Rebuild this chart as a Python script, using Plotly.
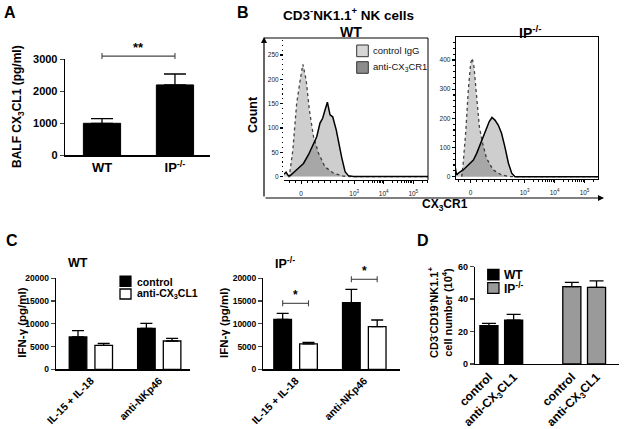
import numpy as np
import plotly.graph_objects as go

W, H = 625, 429
FONT = "Arial, 'Liberation Sans', Helvetica, sans-serif"

# ---------------- data ----------------
# Panel A
a_groups = ["WT", "IP<sup>-/-</sup>"]
a_mean = [1000, 2200]
a_sem = [145, 340]
a_sig_y = 3100
a_sig_text = "**"

# Panel B (flow histograms, x in display units of the logicle axis)
b_xtick_vals = [0, 1.8, 2.8, 3.8]
b_xtick_text = ["0", "10<sup>3</sup>", "10<sup>4</sup>", "10<sup>5</sup>"]
b_legend = ["control IgG", "anti-CX<sub>3</sub>CR1"]
wt_ctrl_x = [-0.45, -0.40, -0.28, -0.15, -0.03, 0.06, 0.17, 0.28, 0.42, 0.59, 0.81, 1.10, 1.43, 1.66, 4.3]
wt_ctrl_y = [0, 0, 55, 151, 199, 231, 199, 137, 82, 48, 20, 7, 1, 0, 0]
wt_anti_x = [-0.58, -0.51, -0.45, -0.37, -0.15, 0.08, 0.25, 0.42, 0.53, 0.64, 0.73, 0.81, 0.89,
             0.98, 1.07, 1.19, 1.27, 1.38, 1.49, 1.60, 1.77, 4.3]
wt_anti_y = [5, 9, 3, 2, 14, 27, 45, 69, 82, 110, 120, 137, 153, 127, 123, 96, 69, 38, 10, 2, 0, 0]
ip_ctrl_x = [-0.30, -0.25, -0.16, -0.08, 0.0, 0.05, 0.11, 0.20, 0.29, 0.40, 0.53, 0.75, 1.03, 1.31, 4.25]
ip_ctrl_y = [0, 46, 160, 297, 389, 406, 377, 274, 171, 114, 63, 23, 6, 0, 0]
ip_anti_x = [-0.52, -0.50, -0.47, -0.41, -0.25, -0.08, 0.09, 0.20, 0.31, 0.42, 0.53, 0.62, 0.71,
             0.81, 0.92, 1.03, 1.14, 1.26, 1.37, 1.48, 4.25]
ip_anti_y = [34, 15, 6, 12, 23, 40, 57, 80, 109, 137, 171, 189, 203, 194, 177, 149, 103, 46, 12, 0, 0]

# Panel C
c_stim = ["IL-15 + IL-18", "anti-NKp46"]
c_treat = ["control", "anti-CX<sub>3</sub>CL1"]
c_wt_ctrl = [7100, 9010]
c_wt_ctrl_err = [1380, 1100]
c_wt_anti = [5270, 6220]
c_wt_anti_err = [440, 590]
c_ip_ctrl = [10990, 14650]
c_ip_ctrl_err = [1310, 2930]
c_ip_anti = [5570, 9380]
c_ip_anti_err = [360, 1460]
c_ip_sig_y = [14500, 19780]
c_ip_sig_text = ["*", "*"]

# Panel D
d_geno = ["WT", "IP<sup>-/-</sup>"]
d_treat = ["control", "anti-CX<sub>3</sub>CL1"]
d_wt = [23.6, 27.1]
d_wt_err = [1.5, 3.5]
d_ip = [47.7, 47.3]
d_ip_err = [2.6, 3.9]

# ---------------- geometry (pixels) ----------------
GEO = {
    "A": dict(x=(65, 210), y=(59.3, 155.3), xr=(-0.507, 1.48), yr=(0, 3000)),
    "BW": dict(x=(284, 428), y=(38, 180), xr=(-0.58, 4.3), yr=(-7, 285)),
    "BI": dict(x=(455.7, 598), y=(37, 179), xr=(-0.5, 4.25), yr=(-8, 479)),
    "CW": dict(x=(56, 190), y=(278.3, 369.3), xr=(-0.51, 1.45), yr=(0, 20000)),
    "CI": dict(x=(263.3, 400), y=(278.3, 369.3), xr=(-0.47, 1.52), yr=(0, 20000)),
    "D": dict(x=(475, 619), y=(266.7, 364), xr=(-0.317, 1.42), yr=(0, 60)),
}


def fx(px):
    return px / W


def fy(py):
    return 1 - py / H


def dom(g):
    return [g["x"][0] / W, g["x"][1] / W], [1 - g["y"][1] / H, 1 - g["y"][0] / H]


def to_px(g, xv, yv):
    (x0, x1), (r0, r1) = g["x"], g["xr"]
    (t, b), (s0, s1) = g["y"], g["yr"]
    return x0 + (xv - r0) / (r1 - r0) * (x1 - x0), b - (yv - s0) / (s1 - s0) * (b - t)


def err(arr, cap):
    return dict(type="data", array=arr, arrayminus=[0] * len(arr), symmetric=False,
                color="black", thickness=1.3, width=cap)


fig = go.Figure()
shapes = []
annos = []


def txt(text, px, py, size, bold=True, angle=0, xanchor="center", yanchor="middle", color="black"):
    annos.append(dict(text=text, x=fx(px), y=fy(py), xref="paper", yref="paper", showarrow=False,
                      xanchor=xanchor, yanchor=yanchor, textangle=angle,
                      font=dict(family=FONT, size=size, color=color, weight="bold" if bold else "normal")))


def rect(x0, y0, x1, y1, fill, line="black", lw=1.2):
    shapes.append(dict(type="rect", xref="paper", yref="paper", x0=fx(x0), x1=fx(x1), y0=fy(y0), y1=fy(y1),
                       fillcolor=fill, line=dict(color=line, width=lw)))


def pline(x0, y0, x1, y1, color="black", lw=1.2):
    shapes.append(dict(type="line", xref="paper", yref="paper", x0=fx(x0), x1=fx(x1), y0=fy(y0), y1=fy(y1),
                       line=dict(color=color, width=lw)))


def bracket(g, xa, xb, yv, text, size, color="#444"):
    pa, py = to_px(g, xa, yv)
    pb, _ = to_px(g, xb, yv)
    pline(pa, py, pb, py, color, 1.1)
    for p in (pa, pb):
        pline(p, py - 3, p, py + 3, color, 1.1)
    txt(text, (pa + pb) / 2, py + 1, size, yanchor="bottom")


# ---------------- Panel A ----------------
fig.add_trace(go.Bar(x=a_groups, y=a_mean, width=0.51, marker=dict(color="black", line=dict(color="black", width=1)),
                     error_y=err(a_sem, 11), xaxis="x", yaxis="y", showlegend=False))
bracket(GEO["A"], 0, 1, a_sig_y, a_sig_text, 13)

# ---------------- Panel B ----------------
fill_c = "rgba(30,30,30,0.22)"
for xs, ys, xa, ya, kind in [(wt_ctrl_x, wt_ctrl_y, "x2", "y2", "c"), (wt_anti_x, wt_anti_y, "x2", "y2", "a"),
                             (ip_ctrl_x, ip_ctrl_y, "x3", "y3", "c"), (ip_anti_x, ip_anti_y, "x3", "y3", "a")]:
    line = dict(color="#444", width=1.3, dash="dot") if kind == "c" else dict(color="black", width=1.5)
    fig.add_trace(go.Scatter(x=xs, y=ys, mode="lines", line=line, fill="tozeroy", fillcolor=fill_c,
                             xaxis=xa, yaxis=ya, showlegend=False, hoverinfo="skip"))

# ---------------- Panel C ----------------
c_w, c_off = 0.257, 0.188
for vals, errs, color, sign, xa, ya in [
        (c_wt_ctrl, c_wt_ctrl_err, "black", -1, "x4", "y4"), (c_wt_anti, c_wt_anti_err, "white", 1, "x4", "y4"),
        (c_ip_ctrl, c_ip_ctrl_err, "black", -1, "x5", "y5"), (c_ip_anti, c_ip_anti_err, "white", 1, "x5", "y5")]:
    fig.add_trace(go.Bar(x=c_stim, y=vals, width=c_w, offset=sign * c_off - c_w / 2,
                         marker=dict(color=color, line=dict(color="black", width=1.3)),
                         error_y=err(errs, 6), xaxis=xa, yaxis=ya, showlegend=False))
for i, (yv, t) in enumerate(zip(c_ip_sig_y, c_ip_sig_text)):
    bracket(GEO["CI"], i - c_off, i + c_off, yv, t, 12)

# ---------------- Panel D ----------------
d_w, d_off = 0.218, 0.149
d_pos = []
d_lab = []
for gi, (vals, errs, color) in enumerate([(d_wt, d_wt_err, "black"), (d_ip, d_ip_err, "#9a9a9a")]):
    xs = [gi + (ti - 0.5) * 2 * d_off for ti in range(len(d_treat))]
    d_pos += xs
    d_lab += d_treat
    fig.add_trace(go.Bar(x=xs, y=vals, width=d_w, marker=dict(color=color, line=dict(color="black", width=1.3)),
                         error_y=err(errs, 7), xaxis="x6", yaxis="y6", showlegend=False))

# ---------------- axes ----------------
bar_ax = dict(showline=True, linecolor="black", linewidth=1.3, showgrid=False, zeroline=False, automargin=False)


def tickf(s):
    return dict(family=FONT, size=s, color="black", weight="bold")


def ax(key):
    xd, yd = dom(GEO[key])
    return xd, yd, list(GEO[key]["xr"]), list(GEO[key]["yr"])


layout_axes = {}
xd, yd, xr, yr = ax("A")
layout_axes["xaxis"] = dict(bar_ax, domain=xd, range=xr, anchor="y", ticks="", tickfont=tickf(13), type="category")
layout_axes["yaxis"] = dict(bar_ax, domain=yd, range=yr, anchor="x", tickvals=[0, 1000, 2000, 3000],
                            ticks="outside", ticklen=4, tickwidth=1.3, tickfont=tickf(11), tickformat="d")
for n, key in [(4, "CW"), (5, "CI")]:
    xd, yd, xr, yr = ax(key)
    layout_axes[f"xaxis{n}"] = dict(bar_ax, domain=xd, range=xr, anchor=f"y{n}", ticks="", tickangle=-45,
                                    tickfont=tickf(10.5), type="category")
    layout_axes[f"yaxis{n}"] = dict(bar_ax, domain=yd, range=yr, anchor=f"x{n}",
                                    tickvals=[0, 5000, 10000, 15000, 20000], tickformat="d", ticks="outside",
                                    ticklen=4, tickwidth=1.3, tickfont=tickf(8.5))
xd, yd, xr, yr = ax("D")
layout_axes["xaxis6"] = dict(bar_ax, domain=xd, range=xr, anchor="y6", ticks="", tickangle=-45,
                             tickvals=d_pos, ticktext=d_lab, tickfont=tickf(12))
layout_axes["yaxis6"] = dict(bar_ax, domain=yd, range=yr, anchor="x6", tickvals=[0, 20, 40, 60],
                             ticks="outside", ticklen=4, tickwidth=1.3, tickfont=tickf(9))

minor_x = sorted([-0.4, -0.2, 0.2, 0.4, 0.6, 0.8, 1.0, 1.2, 1.4, 1.6] +
                 [d + np.log10(k) for d in (1.8, 2.8) for k in range(2, 10)] +
                 [3.8 + np.log10(k) for k in range(2, 4)])
hist_tf = dict(family=FONT, size=6.5, color="#222")
for n, key, dt, mdt, mirror, yline in [(2, "BW", 50, 10, False, False), (3, "BI", 100, 20, True, True)]:
    xd, yd, xr, yr = ax(key)
    layout_axes[f"xaxis{n}"] = dict(domain=xd, range=xr, anchor=f"y{n}", tickvals=b_xtick_vals, ticktext=b_xtick_text,
                                   ticks="outside", ticklen=3, tickwidth=1, tickcolor="black", showline=True,
                                   linecolor="black", linewidth=1, mirror=mirror, showgrid=False, zeroline=False,
                                   tickfont=hist_tf, ticklabelstandoff=4, automargin=False,
                                   minor=dict(tickvals=minor_x, ticks="outside", ticklen=2, tickcolor="black"))
    layout_axes[f"yaxis{n}"] = dict(domain=yd, range=yr, anchor=f"x{n}", tick0=0, dtick=dt, ticks="outside",
                                   ticklen=3, tickwidth=1.2, tickcolor="black", showline=yline, linecolor="black",
                                   linewidth=1, mirror=mirror, showgrid=False, zeroline=False, tickfont=hist_tf,
                                   automargin=False,
                                   minor=dict(dtick=mdt, tick0=0, ticks="outside", ticklen=1.5, tickcolor="black"))

# ---------------- frames / arrows for B ----------------
pline(264, 38, 428, 38, lw=1)
pline(428, 38, 428, 180, lw=1)
annos.append(dict(x=fx(264), y=fy(37), xref="paper", yref="paper", ax=0, ay=161, text="", showarrow=True,
                  arrowhead=2, arrowsize=1, arrowwidth=1.2, arrowcolor="black"))
annos.append(dict(x=fx(604), y=fy(198), xref="paper", yref="paper", ax=-340, ay=0, text="", showarrow=True,
                  arrowhead=2, arrowsize=1, arrowwidth=1.2, arrowcolor="black"))

# legend B
rect(356.7, 45, 368.3, 56.7, "#d6d6d6", "#333", 1)
rect(356.7, 61.7, 368.3, 73.3, "#8c8c8c", "#333", 1)
txt(b_legend[0], 371, 51, 9.5, bold=False, xanchor="left", color="#111")
txt(b_legend[1], 371, 67.5, 9.5, bold=False, xanchor="left", color="#111")

# legend C
rect(120, 276, 131, 286.5, "black", "black", 1.2)
rect(120, 289, 131, 299, "white", "black", 1.3)
txt(c_treat[0], 135, 281.5, 10.5, xanchor="left")
txt(c_treat[1], 135, 294, 10.5, xanchor="left")

# legend D
rect(487.7, 269.3, 499, 280, "black", "black", 1.2)
rect(487.7, 282.7, 499, 293.3, "#9a9a9a", "black", 1.2)
txt(d_geno[0], 502, 274.7, 12, xanchor="left")
txt(d_geno[1], 502, 288, 12, xanchor="left")

# ---------------- titles / labels ----------------
txt("A", 10, 13, 16)
txt("B", 243, 13, 16)
txt("C", 12, 240, 16)
txt("D", 423, 240, 16)
txt("BALF CX<sub>3</sub>CL1 (pg/ml)", 18, 107, 12, angle=-90)
txt("CD3<sup>-</sup>NK1.1<sup>+</sup> NK cells", 348, 14, 13.5)
txt("WT", 351, 31.5, 14)
txt("IP<sup>-/-</sup>", 530, 31.5, 14)
txt("Count", 253, 115, 12.5, angle=-90)
txt("CX<sub>3</sub>CR1", 445, 205, 12)
txt("WT", 78, 263, 12.5)
txt("IP<sup>-/-</sup>", 285, 263, 12.5)
txt("IFN-γ (pg/ml)", 21.7, 323, 11.5, angle=-90)
txt("IFN-γ (pg/ml)", 224, 323, 11.5, angle=-90)
txt("CD3<sup>-</sup>CD19<sup>-</sup>NK1.1<sup>+</sup><br>cell number (10<sup>4</sup>)", 440, 313, 11, angle=-90)

fig.update_layout(
    width=W, height=H, margin=dict(l=0, r=0, t=0, b=0, autoexpand=False), paper_bgcolor="white",
    plot_bgcolor="rgba(0,0,0,0)", barmode="overlay", showlegend=False, shapes=shapes, annotations=annos,
    font=dict(family=FONT), hovermode=False, **layout_axes,
)

fig.write_html("out.html", config={"displayModeBar": False, "staticPlot": True},
               post_script="document.body.style.margin='0';document.body.style.overflow='hidden';")
